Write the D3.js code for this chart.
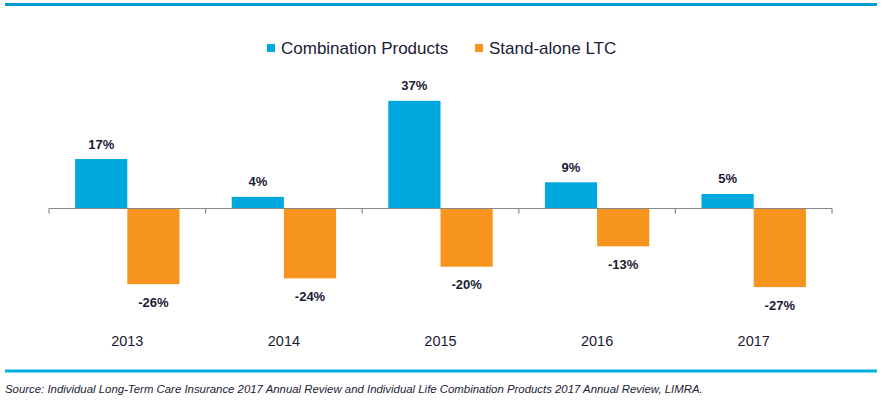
<!DOCTYPE html>
<html>
<head>
<meta charset="utf-8">
<script src="https://cdn.jsdelivr.net/npm/d3@7"></script>
<style>
  html, body { margin: 0; padding: 0; background: #fff; }
  svg { display: block; font-family: "Liberation Sans", Arial, sans-serif; }
</style>
</head>
<body>
<svg id="chart" width="886" height="407"></svg>
<script>
const years = ["2013", "2014", "2015", "2016", "2017"];
const seriesNames = ["Combination Products", "Stand-alone LTC"];
const combination = [17, 4, 37, 9, 5];
const standalone = [-26, -24, -20, -13, -27];
const sourceText = "Source: Individual Long-Term Care Insurance 2017 Annual Review and Individual Life Combination Products 2017 Annual Review, LIMRA.";

const colors = ["#00a8e0", "#f7941d"];
const textColor = "#1b1b35";

const svg = d3.select("#chart");

// Top and bottom rules
svg.append("rect").attr("x", 5).attr("y", 3).attr("width", 872).attr("height", 3).attr("fill", "#009bd5");
svg.append("rect").attr("x", 5).attr("y", 369.5).attr("width", 872).attr("height", 3).attr("fill", "#00aee0");

const x0 = d3.scaleBand().domain(years).range([49, 832]).paddingInner(0).paddingOuter(0);
const x1 = d3.scaleBand().domain(seriesNames).range([0, x0.bandwidth()]).paddingInner(0).paddingOuter(0.5);
const y = d3.scaleLinear().domain([-30, 40]).range([208.5 + 30 * 2.91, 208.5 - 40 * 2.91]);

const data = years.map((yr, i) => ({ year: yr, values: [combination[i], standalone[i]] }));

const g = svg.append("g");
const groups = g.selectAll("g.grp").data(data).enter().append("g")
  .attr("transform", d => `translate(${x0(d.year)},0)`);

groups.selectAll("rect").data(d => d.values.map((v, j) => ({ v, s: seriesNames[j], j })))
  .enter().append("rect")
  .attr("x", d => x1(d.s))
  .attr("width", x1.bandwidth())
  .attr("y", d => Math.min(y(d.v), y(0)))
  .attr("height", d => Math.abs(y(d.v) - y(0)))
  .attr("fill", d => colors[d.j]);

groups.selectAll("text.val").data(d => d.values.map((v, j) => ({ v, s: seriesNames[j], j })))
  .enter().append("text")
  .attr("class", "val")
  .attr("x", d => x1(d.s) + x1.bandwidth() / 2)
  .attr("y", d => d.v >= 0 ? y(d.v) - 10.5 : y(d.v) + 22.5)
  .attr("text-anchor", "middle")
  .attr("font-size", 13)
  .attr("font-weight", "bold")
  .attr("fill", textColor)
  .text(d => d.v + "%");

// Axis line with ticks at band boundaries
const axisY = y(0);
g.append("line").attr("x1", x0.range()[0]).attr("x2", x0.range()[1])
  .attr("y1", axisY).attr("y2", axisY).attr("stroke", "#888").attr("stroke-width", 1.2);
const boundaries = years.map(yr => x0(yr)).concat([x0.range()[1]]);
g.selectAll("line.tick").data(boundaries).enter().append("line")
  .attr("x1", d => d).attr("x2", d => d)
  .attr("y1", axisY).attr("y2", axisY + 5)
  .attr("stroke", "#888").attr("stroke-width", 1.2);

// Year labels
g.selectAll("text.yr").data(years).enter().append("text")
  .attr("x", d => x0(d) + x0.bandwidth() / 2)
  .attr("y", 346)
  .attr("text-anchor", "middle")
  .attr("font-size", 14.5)
  .attr("fill", textColor)
  .text(d => d);

// Legend
const legend = svg.append("g");
const legendItems = [{ name: seriesNames[0], x: 267 }, { name: seriesNames[1], x: 475 }];
legendItems.forEach((it, i) => {
  legend.append("rect").attr("x", it.x).attr("y", 44).attr("width", 8).attr("height", 8).attr("fill", colors[i]);
  legend.append("text").attr("x", it.x + 14).attr("y", 54)
    .attr("font-size", 17).attr("fill", textColor).text(it.name);
});

// Source
svg.append("text").attr("x", 5).attr("y", 393)
  .attr("font-size", 11.4).attr("font-style", "italic").attr("fill", textColor)
  .text(sourceText);
</script>
</body>
</html>
